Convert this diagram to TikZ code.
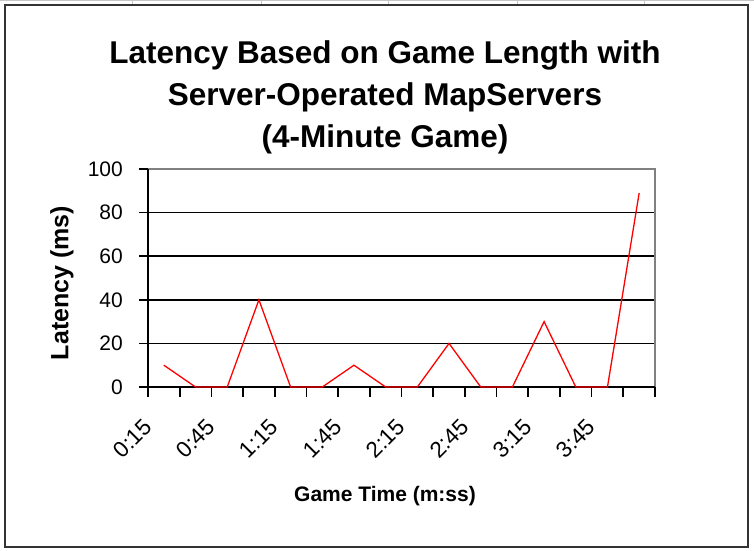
\documentclass[tikz,border=0pt]{standalone}
\usepackage{fontspec}
\setmainfont{Liberation Sans}
\usetikzlibrary{positioning}

\begin{document}
\begin{tikzpicture}[x=1pt, y=1pt, every node/.style={inner sep=0pt, align=center}]

  \useasboundingbox (-148,-163) rectangle (606,387);

  % Sheet grid above the chart
  \draw[gray!45, line width=1pt] (-148,386) -- (606,386);
  \foreach \gx in {-16,113,240,369,496} \draw[gray!45, line width=1pt] (\gx,387) -- (\gx,381);

  % Chart frame
  \draw[black!80, line width=2pt] (-143,382) rectangle (600,-160);

  % Plot area, one unit per category and per ms
  \begin{scope}[x=31.6875pt, y=2.18pt]
    \foreach \v in {20,40,60,80} \draw[line width=1.7pt] (0,\v) -- (16,\v);
    \draw[gray, line width=1.5pt] (0,100) -- (16,100) -- (16,0);
    \draw[line width=1.7pt] (0,100) -- (0,0) -- (16,0);

    % Value axis
    \foreach \v in {0,20,...,100} {
      \draw[line width=1.7pt] (0,\v) -- ++(-9pt,0);
      \node (ytick\v) [anchor=east, font=\fontsize{21}{21}\selectfont] at ([xshift=-25pt]0,\v) {\v};
    }

    % Category axis
    \foreach \i in {0,...,16} \draw[line width=1.7pt] (\i,0) -- ++(0,-10pt);
    \foreach \lab [count=\k] in {0:15,0:45,1:15,1:45,2:15,2:45,3:15,3:45} {
      \pgfmathsetmacro{\cx}{2*\k-1.5}
      \node (xtick\k) [anchor=east, rotate=45, font=\fontsize{22.5}{22.5}\selectfont] at ([xshift=-16pt, yshift=-36pt]\cx,0) {\lab};
    }

    % Latency line
    \draw[red, line width=1.3pt] (0.5,10) -- (1.5,0) -- (2.5,0) -- (3.5,40) -- (4.5,0) -- (5.5,0)
      -- (6.5,10) -- (7.5,0) -- (8.5,0) -- (9.5,20) -- (10.5,0) -- (11.5,0) -- (12.5,30)
      -- (13.5,0) -- (14.5,0) -- (15.5,89);
  \end{scope}

  % Titles
  \node (charttitle) [font=\bfseries\fontsize{31.5}{42}\selectfont] at (237,290)
    {Latency Based on Game Length with\\Server-Operated MapServers\\(4-Minute Game)};
  \node (ylabel) [rotate=90, font=\bfseries\fontsize{25}{25}\selectfont] at (-86,104) {Latency (ms)};
  \node (xlabel) [font=\bfseries\fontsize{21}{21}\selectfont] at (237,-109.5) {Game Time (m:ss)};

\end{tikzpicture}
\end{document}
